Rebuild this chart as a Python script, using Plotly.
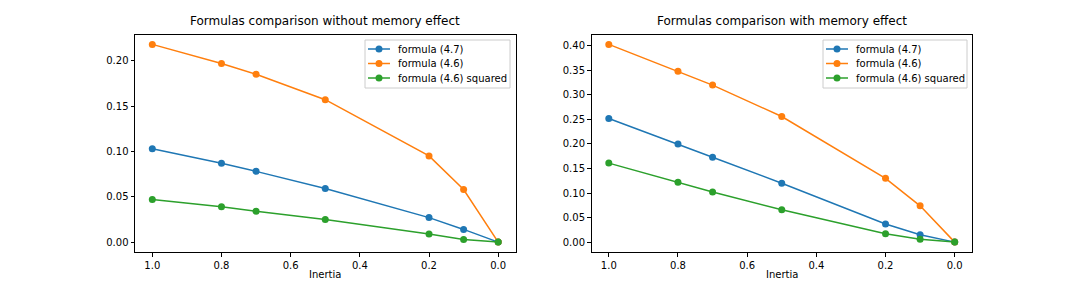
import plotly.graph_objects as go

inertia = [1.0, 0.8, 0.7, 0.5, 0.2, 0.1, 0.0]

# Without memory effect
no_mem_f47 = [0.103, 0.087, 0.078, 0.059, 0.027, 0.014, 0.0]
no_mem_f46 = [0.218, 0.197, 0.185, 0.157, 0.095, 0.058, 0.0]
no_mem_f46sq = [0.047, 0.039, 0.034, 0.025, 0.009, 0.003, 0.0]

# With memory effect
mem_f47 = [0.252, 0.200, 0.173, 0.120, 0.037, 0.015, 0.0]
mem_f46 = [0.403, 0.348, 0.320, 0.256, 0.130, 0.074, 0.0]
mem_f46sq = [0.161, 0.122, 0.102, 0.066, 0.017, 0.006, 0.0]

names = ["formula (4.7)", "formula (4.6)", "formula (4.6) squared"]
colors = ["#1f77b4", "#ff7f0e", "#2ca02c"]
titles = ["Formulas comparison without memory effect", "Formulas comparison with memory effect"]

# page body has an 8px margin, so the figure is drawn 8px in from the window edge
OFF = 8
W, H = 1080 - 2 * OFF, 288 - 2 * OFF
font = "DejaVu Sans"

def px_x(px):
    return (px - OFF) / W

def px_y(py):
    return 1 - (py - OFF) / H

fig = go.Figure()

panels = [
    (no_mem_f47, no_mem_f46, no_mem_f46sq),
    (mem_f47, mem_f46, mem_f46sq),
]

for p, series in enumerate(panels):
    xa = "x" if p == 0 else "x2"
    ya = "y" if p == 0 else "y2"
    for name, vals, col in zip(names, series, colors):
        fig.add_trace(go.Scatter(
            x=inertia, y=vals, name=name, mode="lines+markers",
            line=dict(color=col, width=1.5),
            marker=dict(color=col, size=7),
            xaxis=xa, yaxis=ya, showlegend=False,
        ))

def yrange(series):
    mx = max(max(s) for s in series)
    mn = min(min(s) for s in series)
    pad = (mx - mn) * 0.05
    return [mn - pad, mx + pad]

ydom = [px_y(252), px_y(34.5)]
xdoms = [[px_x(135), px_x(515.5)], [px_x(591.5), px_x(972)]]

axis_common = dict(
    showline=True, linecolor="black", linewidth=1, mirror=True,
    ticks="outside", ticklen=3.5, tickcolor="black", tickwidth=1,
    showgrid=False, zeroline=False,
    tickfont=dict(family=font, size=10, color="black"),
)

tickvals_x = [1.0, 0.8, 0.6, 0.4, 0.2, 0.0]

fig.update_layout(
    xaxis=dict(domain=xdoms[0], range=[1.05, -0.05], anchor="y",
               tickvals=tickvals_x, tickformat=".1f", **axis_common),
    yaxis=dict(domain=ydom, range=yrange(panels[0]), anchor="x",
               tickmode="linear", tick0=0, dtick=0.05, tickformat=".2f", **axis_common),
    xaxis2=dict(domain=xdoms[1], range=[1.05, -0.05], anchor="y2",
                tickvals=tickvals_x, tickformat=".1f", **axis_common),
    yaxis2=dict(domain=ydom, range=yrange(panels[1]), anchor="x2",
                tickmode="linear", tick0=0, dtick=0.05, tickformat=".2f", **axis_common),
    width=W, height=H,
    margin=dict(l=0, r=0, t=0, b=0),
    paper_bgcolor="white", plot_bgcolor="white",
    font=dict(family=font, size=10, color="black"),
    showlegend=False,
)

annotations = []
shapes = []
for p in range(2):
    cx = (xdoms[p][0] + xdoms[p][1]) / 2
    annotations.append(dict(
        text=titles[p], x=cx, y=px_y(30), xref="paper", yref="paper",
        xanchor="center", yanchor="bottom", showarrow=False,
        font=dict(family=font, size=12, color="black"),
    ))
    annotations.append(dict(
        text="Inertia", x=cx, y=px_y(267), xref="paper", yref="paper",
        xanchor="center", yanchor="top", showarrow=False,
        font=dict(family=font, size=10, color="black"),
    ))

# matplotlib-style legend boxes (upper right of each panel)
legend_boxes = [(365, 510), (823, 967)]
for (bx0, bx1) in legend_boxes:
    by0, by1 = 40, 88
    shapes.append(dict(
        type="rect", xref="paper", yref="paper",
        x0=px_x(bx0), x1=px_x(bx1), y0=px_y(by1), y1=px_y(by0),
        line=dict(color="#cccccc", width=1), fillcolor="rgba(255,255,255,0.8)",
        layer="above",
    ))
    for i, (name, col) in enumerate(zip(names, colors)):
        cy = 49 + i * 14.5
        shapes.append(dict(
            type="line", xref="paper", yref="paper",
            x0=px_x(bx0 + 3), x1=px_x(bx0 + 25), y0=px_y(cy), y1=px_y(cy),
            line=dict(color=col, width=1.5), layer="above",
        ))
        shapes.append(dict(
            type="circle", xref="paper", yref="paper",
            x0=px_x(bx0 + 14 - 3.5), x1=px_x(bx0 + 14 + 3.5),
            y0=px_y(cy + 3.5), y1=px_y(cy - 3.5),
            line=dict(color=col, width=0), fillcolor=col, layer="above",
        ))
        annotations.append(dict(
            text=name, x=px_x(bx0 + 31), y=px_y(cy), xref="paper", yref="paper",
            xanchor="left", yanchor="middle", showarrow=False,
            font=dict(family=font, size=10, color="black"),
        ))

fig.update_layout(annotations=annotations, shapes=shapes)

fig.write_html("out.html")
